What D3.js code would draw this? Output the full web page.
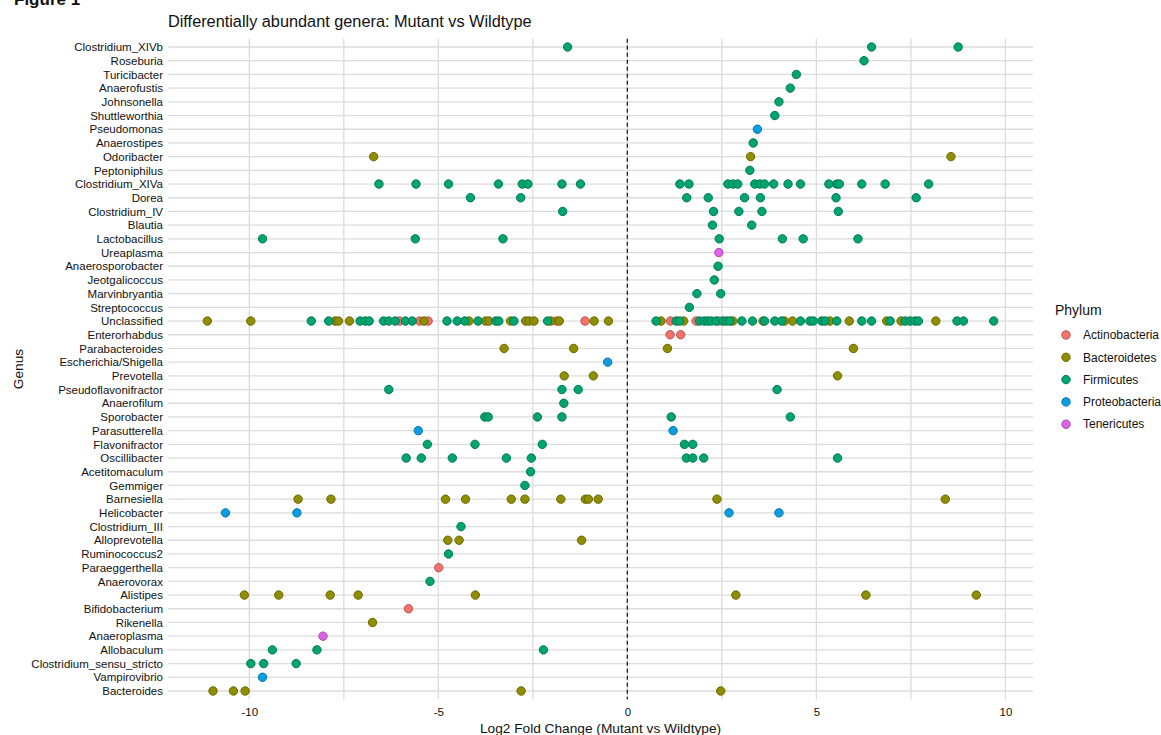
<!DOCTYPE html>
<html>
<head>
<meta charset="utf-8">
<script src="https://cdn.jsdelivr.net/npm/d3@7"></script>
<style>
  body { margin: 0; background: #fff; }
  text { font-family: "Liberation Sans", Arial, sans-serif; }
</style>
</head>
<body>
<div id="wrapper"></div>
<script>
// genera, top to bottom
const genera = [
  "Clostridium_XIVb", "Roseburia", "Turicibacter", "Anaerofustis", "Johnsonella",
  "Shuttleworthia", "Pseudomonas", "Anaerostipes", "Odoribacter", "Peptoniphilus",
  "Clostridium_XIVa", "Dorea", "Clostridium_IV", "Blautia", "Lactobacillus",
  "Ureaplasma", "Anaerosporobacter", "Jeotgalicoccus", "Marvinbryantia", "Streptococcus",
  "Unclassified", "Enterorhabdus", "Parabacteroides", "Escherichia/Shigella", "Prevotella",
  "Pseudoflavonifractor", "Anaerofilum", "Sporobacter", "Parasutterella", "Flavonifractor",
  "Oscillibacter", "Acetitomaculum", "Gemmiger", "Barnesiella", "Helicobacter",
  "Clostridium_III", "Alloprevotella", "Ruminococcus2", "Paraeggerthella", "Anaerovorax",
  "Alistipes", "Bifidobacterium", "Rikenella", "Anaeroplasma", "Allobaculum",
  "Clostridium_sensu_stricto", "Vampirovibrio", "Bacteroides",
];

const phyla = ["Actinobacteria", "Bacteroidetes", "Firmicutes", "Proteobacteria", "Tenericutes"];
const phylumColors = ["#F3736B", "#8E8E00", "#00A46F", "#0A9DE2", "#DE62E8"];

const xTicks = [-10, -5, 0, 5, 10];

// [genus, log2 fold change] per phylum
const actinobacteria = [
  ["Unclassified", [-6.03, -5.5, -5.27, -1.87, -1.12, 1.14, 1.82, 2.42]],
  ["Enterorhabdus", [1.13, 1.41]],
  ["Paraeggerthella", [-4.99]],
  ["Bifidobacterium", [-5.79]],
];

const bacteroidetes = [
  ["Odoribacter", [-6.71, 3.26, 8.56]],
  ["Unclassified", [-11.11, -9.96, -7.73, -7.64, -7.35, -5.38, -4.19, -3.75, -3.66, -3.09,
    -2.69, -2.6, -2.47, -2.02, -1.8, -0.88, -0.5, 0.89, 1.49, 2.79, 3.59, 4.16, 4.37,
    5.36, 5.87, 6.86, 7.24, 8.16]],
  ["Parabacteroides", [-3.26, -1.42, 1.06, 5.98]],
  ["Prevotella", [-1.67, -0.9, 5.56]],
  ["Barnesiella", [-8.71, -7.84, -4.81, -4.28, -3.07, -2.71, -1.76, -1.11, -1.03, -0.77, 2.37, 8.41]],
  ["Alloprevotella", [-4.75, -4.45, -1.21]],
  ["Alistipes", [-10.13, -9.22, -7.86, -7.12, -4.02, 2.87, 6.31, 9.23]],
  ["Rikenella", [-6.74]],
  ["Bacteroides", [-10.96, -10.42, -10.11, -2.81, 2.47]],
];

const firmicutes = [
  ["Clostridium_XIVb", [-1.58, 6.46, 8.75]],
  ["Roseburia", [6.26]],
  ["Turicibacter", [4.47]],
  ["Anaerofustis", [4.31]],
  ["Johnsonella", [4.01]],
  ["Shuttleworthia", [3.9]],
  ["Anaerostipes", [3.33]],
  ["Peptoniphilus", [3.24]],
  ["Clostridium_XIVa", [-6.57, -5.59, -4.73, -3.41, -2.78, -2.63, -1.73, -1.24, 1.39, 1.63,
    2.66, 2.79, 2.92, 3.37, 3.5, 3.63, 3.87, 4.25, 4.58, 5.33, 5.54, 5.61, 6.2, 6.82, 7.97]],
  ["Dorea", [-4.15, -2.82, 1.57, 2.14, 3.1, 3.52, 5.52, 7.64]],
  ["Clostridium_IV", [-1.71, 2.28, 2.95, 3.56, 5.58]],
  ["Blautia", [2.25, 3.29]],
  ["Lactobacillus", [-9.65, -5.61, -3.29, 2.43, 4.1, 4.65, 6.1]],
  ["Anaerosporobacter", [2.4]],
  ["Jeotgalicoccus", [2.3]],
  ["Marvinbryantia", [1.84, 2.47]],
  ["Streptococcus", [1.64]],
  ["Unclassified", [-8.36, -7.9, -7.07, -6.93, -6.83, -6.45, -6.31, -6.14, -5.87, -5.69,
    -4.77, -4.5, -4.3, -3.95, -3.48, -3.4, -3.0, -2.11, 0.76, 1.29, 1.38, 1.91, 2.04,
    2.13, 2.22, 2.35, 2.53, 2.62, 2.71, 3.03, 3.31, 3.63, 3.9, 4.08, 4.58, 4.83, 4.92,
    5.14, 5.23, 5.54, 6.2, 6.46, 6.95, 7.35, 7.48, 7.61, 7.7, 8.72, 8.89, 9.69]],
  ["Pseudoflavonifractor", [-6.31, -1.73, -1.3, 3.96]],
  ["Anaerofilum", [-1.68]],
  ["Sporobacter", [-3.77, -3.68, -2.38, -1.73, 1.16, 4.31]],
  ["Flavonifractor", [-5.29, -4.03, -2.25, 1.51, 1.73]],
  ["Oscillibacter", [-5.85, -5.45, -4.63, -3.2, -2.54, 1.56, 1.73, 2.02, 5.56]],
  ["Acetitomaculum", [-2.56]],
  ["Gemmiger", [-2.71]],
  ["Clostridium_III", [-4.4]],
  ["Ruminococcus2", [-4.73]],
  ["Anaerovorax", [-5.22]],
  ["Allobaculum", [-9.39, -8.21, -2.22]],
  ["Clostridium_sensu_stricto", [-9.96, -9.62, -8.76]],
];

const proteobacteria = [
  ["Pseudomonas", [3.44]],
  ["Escherichia/Shigella", [-0.52]],
  ["Parasutterella", [-5.53, 1.21]],
  ["Helicobacter", [-10.63, -8.74, 2.69, 4.01]],
  ["Vampirovibrio", [-9.65]],
];

const tenericutes = [
  ["Ureaplasma", [2.42]],
  ["Anaeroplasma", [-8.05]],
];

function drawChart() {
  const byPhylum = [actinobacteria, bacteroidetes, firmicutes, proteobacteria, tenericutes];
  const dataset = [];
  byPhylum.forEach((rows, i) => {
    rows.forEach(([genus, values]) => {
      values.forEach((v) => dataset.push({ genus, lfc: v, phylum: phyla[i] }));
    });
  });

  let dimensions = {
    width: 1161,
    height: 735,
    margin: { top: 38.8, right: 128, bottom: 35.8, left: 168 },
  };
  dimensions.boundedWidth =
    dimensions.width - dimensions.margin.left - dimensions.margin.right;
  dimensions.boundedHeight =
    dimensions.height - dimensions.margin.top - dimensions.margin.bottom;

  const xAccessor = (d) => d.lfc;
  const yAccessor = (d) => d.genus;
  const colorAccessor = (d) => d.phylum;

  const wrapper = d3
    .select("#wrapper")
    .append("svg")
    .attr("width", dimensions.width)
    .attr("height", dimensions.height);

  // figure label, mostly cut off at the top
  wrapper
    .append("text")
    .attr("x", 14)
    .attr("y", 5)
    .style("font-size", "17px")
    .style("font-weight", "bold")
    .attr("fill", "#111")
    .text("Figure 1");

  const bounds = wrapper
    .append("g")
    .attr("transform", `translate(${dimensions.margin.left},${dimensions.margin.top})`);

  // ggplot-like 5% expansion
  const [minX, maxX] = d3.extent(dataset, xAccessor);
  const pad = (maxX - minX) * 0.05;
  const xScale = d3
    .scaleLinear()
    .domain([minX - pad, maxX + pad])
    .range([0, dimensions.boundedWidth]);

  const yScale = d3
    .scalePoint()
    .domain(genera)
    .range([0, dimensions.boundedHeight])
    .padding(0.6);

  const colorScale = d3.scaleOrdinal().domain(phyla).range(phylumColors);

  // grid
  const grid = bounds.append("g");
  grid
    .selectAll(".hgrid")
    .data(genera)
    .join("line")
    .attr("x1", 0)
    .attr("x2", dimensions.boundedWidth)
    .attr("y1", (d) => yScale(d))
    .attr("y2", (d) => yScale(d))
    .attr("stroke", "#dcdcdc")
    .attr("stroke-width", 1.3);

  grid
    .selectAll(".vgrid")
    .data(d3.range(-10, 10.01, 2.5))
    .join("line")
    .attr("x1", (d) => xScale(d))
    .attr("x2", (d) => xScale(d))
    .attr("y1", 0)
    .attr("y2", dimensions.boundedHeight)
    .attr("stroke", "#dcdcdc")
    .attr("stroke-width", 1.3);

  // zero line
  bounds
    .append("line")
    .attr("x1", xScale(0))
    .attr("x2", xScale(0))
    .attr("y1", 0)
    .attr("y2", dimensions.boundedHeight)
    .attr("stroke", "#222")
    .attr("stroke-width", 1.3)
    .style("stroke-dasharray", "4 3");

  // points
  bounds
    .append("g")
    .selectAll("circle")
    .data(dataset)
    .join("circle")
    .attr("cx", (d) => xScale(xAccessor(d)))
    .attr("cy", (d) => yScale(yAccessor(d)))
    .attr("r", 4.2)
    .attr("fill", (d) => colorScale(colorAccessor(d)))
    .attr("stroke", (d) => d3.color(colorScale(colorAccessor(d))).darker(0.8))
    .attr("stroke-width", 1);

  // axes
  const xAxisGenerator = d3.axisBottom(xScale).tickValues(xTicks).tickSize(0).tickPadding(9);
  const xAxis = bounds
    .append("g")
    .call(xAxisGenerator)
    .attr("transform", `translate(0,${dimensions.boundedHeight})`);
  xAxis.select(".domain").remove();
  xAxis
    .selectAll("text")
    .style("font-size", "11.5px")
    .attr("fill", "#111")
    .text((d) => (d < 0 ? "-" + Math.abs(d) : d));

  const yAxisGenerator = d3.axisLeft(yScale).tickSize(0).tickPadding(5);
  const yAxis = bounds.append("g").call(yAxisGenerator);
  yAxis.select(".domain").remove();
  yAxis
    .selectAll("text")
    .style("font-size", "11.5px")
    .attr("fill", "#111");

  // titles
  wrapper
    .append("text")
    .attr("x", dimensions.margin.left)
    .attr("y", 27)
    .style("font-size", "16.3px")
    .attr("fill", "#111")
    .text("Differentially abundant genera: Mutant vs Wildtype");

  wrapper
    .append("text")
    .attr("x", dimensions.margin.left + dimensions.boundedWidth / 2)
    .attr("y", 733)
    .style("text-anchor", "middle")
    .style("font-size", "13.7px")
    .attr("fill", "#111")
    .text("Log2 Fold Change (Mutant vs Wildtype)");

  wrapper
    .append("text")
    .attr("transform", `translate(23,${dimensions.margin.top + dimensions.boundedHeight / 2}) rotate(-90)`)
    .style("text-anchor", "middle")
    .style("font-size", "13.7px")
    .attr("fill", "#111")
    .text("Genus");

  // legend
  const legend = wrapper.append("g").attr("transform", "translate(1055,0)");
  legend
    .append("text")
    .attr("x", 0)
    .attr("y", 315)
    .style("font-size", "14px")
    .attr("fill", "#111")
    .text("Phylum");

  const items = legend
    .selectAll(".item")
    .data(phyla)
    .join("g")
    .attr("transform", (d, i) => `translate(0,${335 + i * 22.3})`);
  items
    .append("circle")
    .attr("cx", 11)
    .attr("r", 4.2)
    .attr("fill", (d) => colorScale(d))
    .attr("stroke", (d) => d3.color(colorScale(d)).darker(0.8))
    .attr("stroke-width", 1);
  items
    .append("text")
    .attr("x", 28)
    .attr("dy", "0.35em")
    .style("font-size", "12px")
    .attr("fill", "#111")
    .text((d) => d);
}
drawChart();
</script>
</body>
</html>
